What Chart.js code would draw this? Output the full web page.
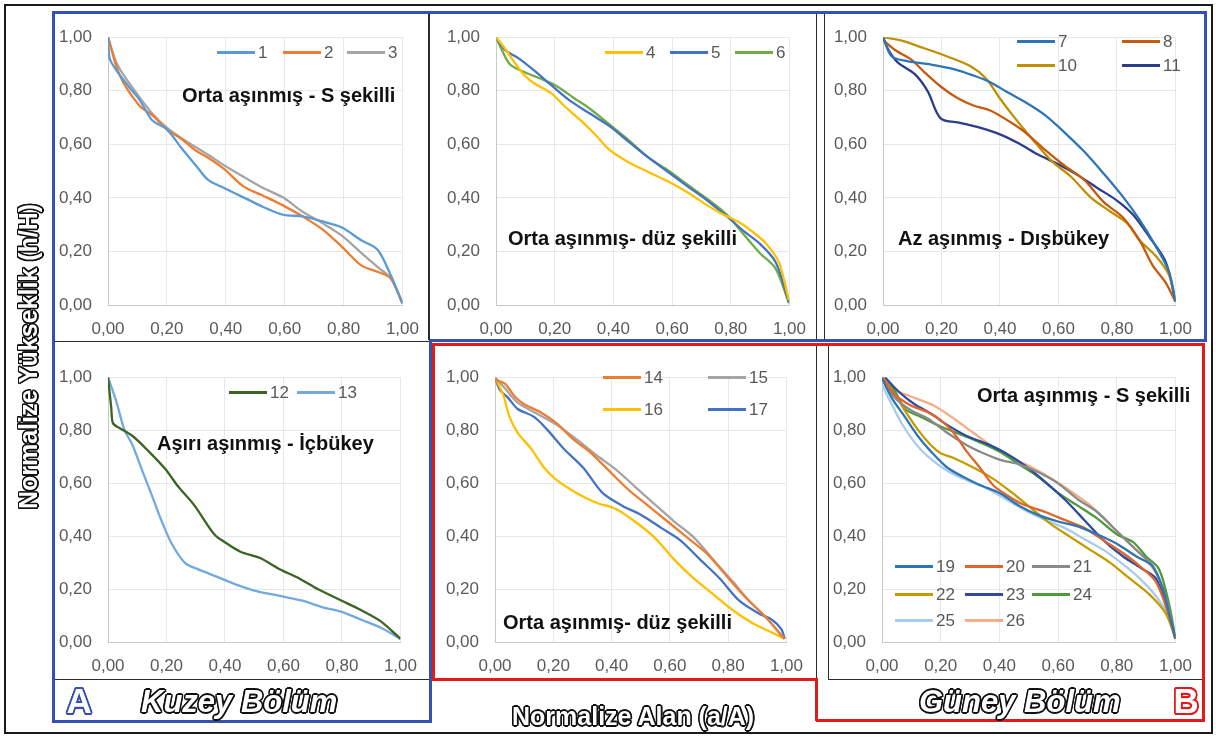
<!DOCTYPE html>
<html><head><meta charset="utf-8">
<script src="https://cdn.jsdelivr.net/npm/chart.js@4.4.1/dist/chart.umd.min.js"></script>
<style>
html,body{margin:0;padding:0;background:#fff;}
#wrap{position:relative;width:1216px;height:737px;overflow:hidden;background:#fff;}
canvas{position:absolute;}
.bx{position:absolute;box-sizing:border-box;}
.lg{position:absolute;font:17px 'Liberation Sans',Arial,sans-serif;color:#595959;white-space:nowrap;line-height:20px;height:20px;}
.lg i{display:inline-block;width:38px;height:3px;vertical-align:middle;margin-right:3px;position:relative;top:-1px;}
.note{position:absolute;font:bold 20px 'Liberation Sans',Arial,sans-serif;color:#111;white-space:nowrap;line-height:24px;}
.out{position:absolute;white-space:nowrap;color:#fff;font-family:'Liberation Sans',Arial,sans-serif;font-weight:bold;line-height:1;}
</style></head>
<body><div id="wrap"></div>
<script>
// ---------- data ----------
const tickValues = [0, 0.2, 0.4, 0.6, 0.8, 1.0];
const tickLabels = ['0,00', '0,20', '0,40', '0,60', '0,80', '1,00'];

const s1 = [[0,1],[0.007,0.916],[0.062,0.827],[0.106,0.768],[0.15,0.69],[0.2,0.656],[0.25,0.585],[0.295,0.526],[0.34,0.467],[0.394,0.437],[0.46,0.402],[0.527,0.366],[0.594,0.337],[0.66,0.331],[0.726,0.313],[0.793,0.29],[0.86,0.242],[0.915,0.207],[0.96,0.112],[1,0.006]];
const s2 = [[0,1],[0.04,0.857],[0.106,0.745],[0.15,0.709],[0.2,0.656],[0.25,0.62],[0.295,0.579],[0.34,0.55],[0.394,0.508],[0.46,0.443],[0.527,0.408],[0.594,0.372],[0.66,0.331],[0.726,0.284],[0.793,0.219],[0.86,0.148],[0.915,0.124],[0.96,0.1],[1,0.006]];
const s3 = [[0,1],[0.029,0.904],[0.073,0.827],[0.15,0.715],[0.2,0.662],[0.26,0.615],[0.34,0.561],[0.405,0.514],[0.46,0.479],[0.527,0.437],[0.594,0.402],[0.66,0.349],[0.726,0.307],[0.793,0.26],[0.86,0.195],[0.915,0.142],[0.96,0.1],[1,0.006]];

const s4 = [[0,1],[0.031,0.957],[0.064,0.904],[0.098,0.857],[0.131,0.827],[0.187,0.792],[0.231,0.745],[0.287,0.691],[0.342,0.632],[0.387,0.579],[0.453,0.532],[0.52,0.496],[0.587,0.461],[0.653,0.42],[0.72,0.372],[0.776,0.337],[0.831,0.307],[0.876,0.272],[0.92,0.23],[0.964,0.16],[0.998,0.018]];
const s5 = [[0,1],[0.031,0.952],[0.076,0.922],[0.131,0.875],[0.187,0.822],[0.253,0.762],[0.32,0.715],[0.387,0.668],[0.453,0.609],[0.52,0.55],[0.587,0.496],[0.653,0.443],[0.72,0.39],[0.787,0.331],[0.842,0.278],[0.898,0.23],[0.953,0.16],[0.998,0.012]];
const s6 = [[0,1],[0.02,0.952],[0.048,0.898],[0.098,0.869],[0.153,0.845],[0.209,0.816],[0.264,0.774],[0.32,0.733],[0.387,0.674],[0.453,0.615],[0.52,0.55],[0.587,0.502],[0.653,0.449],[0.72,0.396],[0.787,0.337],[0.842,0.266],[0.898,0.195],[0.953,0.136],[0.998,0.006]];

const s7 = [[0,1],[0.03,0.928],[0.086,0.91],[0.164,0.898],[0.242,0.881],[0.309,0.857],[0.365,0.833],[0.42,0.798],[0.487,0.757],[0.554,0.709],[0.621,0.644],[0.688,0.573],[0.755,0.49],[0.822,0.402],[0.877,0.319],[0.933,0.219],[0.978,0.124],[1,0.012]];
const s8 = [[0,0.99],[0.041,0.952],[0.097,0.916],[0.142,0.869],[0.197,0.816],[0.253,0.774],[0.309,0.745],[0.365,0.727],[0.431,0.686],[0.487,0.644],[0.554,0.579],[0.621,0.52],[0.688,0.467],[0.755,0.384],[0.822,0.325],[0.877,0.242],[0.922,0.148],[0.967,0.083],[1,0.012]];
const s10 = [[0,1],[0.064,0.987],[0.13,0.963],[0.22,0.928],[0.298,0.892],[0.353,0.845],[0.398,0.774],[0.443,0.709],[0.51,0.62],[0.576,0.538],[0.643,0.479],[0.71,0.402],[0.777,0.349],[0.833,0.307],[0.877,0.242],[0.933,0.183],[0.978,0.112],[1,0.018]];
const s11 = [[0,1],[0.019,0.952],[0.052,0.904],[0.108,0.863],[0.153,0.798],[0.197,0.697],[0.264,0.68],[0.331,0.662],[0.398,0.638],[0.465,0.603],[0.532,0.561],[0.599,0.526],[0.666,0.485],[0.733,0.437],[0.8,0.39],[0.855,0.337],[0.911,0.254],[0.967,0.16],[1,0.012]];

const s12 = [[0,1],[0.011,0.886],[0.017,0.826],[0.039,0.808],[0.084,0.778],[0.14,0.719],[0.196,0.653],[0.24,0.587],[0.296,0.515],[0.363,0.407],[0.408,0.371],[0.453,0.341],[0.52,0.317],[0.587,0.275],[0.654,0.24],[0.72,0.198],[0.799,0.156],[0.866,0.12],[0.933,0.078],[1,0.012]];
const s13 = [[0,1],[0.028,0.91],[0.056,0.802],[0.084,0.743],[0.117,0.647],[0.151,0.551],[0.184,0.455],[0.218,0.371],[0.263,0.299],[0.307,0.275],[0.374,0.246],[0.441,0.216],[0.508,0.192],[0.587,0.174],[0.665,0.156],[0.732,0.132],[0.799,0.114],[0.866,0.084],[0.933,0.054],[1,0.012]];

const s14 = [[0,0.99],[0.034,0.976],[0.067,0.928],[0.1,0.898],[0.156,0.868],[0.212,0.826],[0.268,0.766],[0.324,0.719],[0.391,0.647],[0.458,0.575],[0.525,0.515],[0.592,0.455],[0.659,0.395],[0.726,0.335],[0.793,0.251],[0.86,0.168],[0.927,0.096],[0.983,0.024],[0.994,0.012]];
const s15 = [[0,1],[0.034,0.958],[0.078,0.904],[0.145,0.862],[0.212,0.82],[0.279,0.766],[0.346,0.707],[0.413,0.653],[0.48,0.587],[0.547,0.521],[0.615,0.455],[0.682,0.395],[0.749,0.311],[0.816,0.228],[0.872,0.156],[0.927,0.096],[0.994,0.012]];
const s16 = [[0,1],[0.028,0.934],[0.05,0.85],[0.078,0.79],[0.123,0.731],[0.168,0.659],[0.212,0.611],[0.279,0.563],[0.346,0.527],[0.413,0.503],[0.48,0.455],[0.547,0.395],[0.615,0.311],[0.682,0.24],[0.749,0.18],[0.816,0.12],[0.883,0.072],[0.95,0.036],[0.994,0.012]];
const s17 = [[0,1],[0.017,0.952],[0.045,0.922],[0.078,0.88],[0.134,0.85],[0.179,0.802],[0.235,0.731],[0.302,0.659],[0.369,0.563],[0.436,0.515],[0.503,0.479],[0.57,0.431],[0.637,0.383],[0.704,0.311],[0.771,0.24],[0.838,0.156],[0.905,0.108],[0.95,0.084],[0.983,0.048],[0.994,0.012]];

const s19 = [[0,0.994],[0.033,0.922],[0.078,0.85],[0.122,0.778],[0.167,0.719],[0.222,0.659],[0.278,0.623],[0.333,0.593],[0.4,0.563],[0.467,0.515],[0.533,0.479],[0.6,0.455],[0.667,0.437],[0.733,0.407],[0.8,0.371],[0.867,0.323],[0.922,0.287],[0.956,0.204],[0.978,0.108],[1,0.012]];
const s20 = [[0,1],[0.044,0.934],[0.1,0.892],[0.156,0.868],[0.2,0.838],[0.244,0.79],[0.289,0.719],[0.333,0.659],[0.378,0.593],[0.422,0.557],[0.478,0.521],[0.556,0.491],[0.622,0.461],[0.689,0.431],[0.756,0.383],[0.822,0.335],[0.878,0.287],[0.933,0.228],[0.972,0.12],[1,0.012]];
const s21 = [[0,1],[0.044,0.922],[0.1,0.874],[0.156,0.844],[0.222,0.79],[0.289,0.743],[0.333,0.719],[0.4,0.689],[0.467,0.671],[0.533,0.641],[0.6,0.599],[0.667,0.539],[0.733,0.491],[0.8,0.419],[0.867,0.347],[0.922,0.287],[0.967,0.168],[1,0.012]];
const s22 = [[0,1],[0.044,0.934],[0.078,0.874],[0.122,0.802],[0.167,0.743],[0.2,0.713],[0.244,0.695],[0.311,0.659],[0.378,0.617],[0.444,0.563],[0.511,0.503],[0.578,0.443],[0.644,0.395],[0.711,0.347],[0.778,0.299],[0.844,0.24],[0.911,0.18],[0.967,0.108],[1,0.012]];
const s23 = [[0.01,1],[0.056,0.946],[0.111,0.898],[0.167,0.862],[0.222,0.82],[0.289,0.778],[0.356,0.749],[0.422,0.713],[0.489,0.665],[0.556,0.605],[0.622,0.539],[0.689,0.461],[0.756,0.383],[0.822,0.323],[0.889,0.275],[0.933,0.24],[0.972,0.132],[1,0.012]];
const s24 = [[0,0.994],[0.044,0.946],[0.078,0.88],[0.133,0.85],[0.2,0.814],[0.267,0.784],[0.333,0.754],[0.4,0.719],[0.467,0.671],[0.533,0.623],[0.6,0.563],[0.667,0.515],[0.733,0.467],[0.8,0.407],[0.856,0.377],[0.9,0.323],[0.944,0.275],[0.978,0.144],[1,0.012]];
const s25 = [[0,0.97],[0.033,0.898],[0.067,0.826],[0.111,0.754],[0.156,0.701],[0.222,0.647],[0.289,0.611],[0.356,0.581],[0.422,0.539],[0.489,0.497],[0.556,0.461],[0.622,0.431],[0.689,0.389],[0.756,0.347],[0.822,0.293],[0.878,0.24],[0.933,0.174],[0.978,0.096],[1,0.012]];
const s26 = [[0,1],[0.056,0.946],[0.111,0.922],[0.178,0.892],[0.244,0.844],[0.311,0.79],[0.378,0.737],[0.444,0.695],[0.511,0.659],[0.578,0.617],[0.644,0.569],[0.711,0.515],[0.778,0.443],[0.844,0.371],[0.9,0.311],[0.944,0.24],[0.978,0.132],[1,0.012]];

const panelSeries = [
  [['1', s1], ['2', s2], ['3', s3]],
  [['4', s4], ['5', s5], ['6', s6]],
  [['7', s7], ['8', s8], ['10', s10], ['11', s11]],
  [['12', s12], ['13', s13]],
  [['14', s14], ['15', s15], ['16', s16], ['17', s17]],
  [['19', s19], ['20', s20], ['21', s21], ['22', s22], ['23', s23], ['24', s24], ['25', s25], ['26', s26]]
];
const panelTitles = ['Orta aşınmış - S şekilli', 'Orta aşınmış- düz şekilli', 'Az aşınmış - Dışbükey',
  'Aşırı aşınmış - İçbükey', 'Orta aşınmış- düz şekilli', 'Orta aşınmış - S şekilli'];
const yTitle = 'Normalize Yükseklik (h/H)';
const xTitle = 'Normalize Alan (a/A)';
const groupA = 'Kuzey Bölüm';
const groupB = 'Güney Bölüm';

// ---------- styles / layout ----------
const colors = {
  '1':'#5B9BD5','2':'#ED7D31','3':'#A5A5A5','4':'#FFC000','5':'#4472C4','6':'#70AD47',
  '7':'#2E75B6','8':'#C55A11','10':'#BF9000','11':'#2C3D8C','12':'#3B6522','13':'#72A9DF',
  '14':'#ED7D31','15':'#A5A5A5','16':'#FFC000','17':'#4472C4',
  '19':'#2E75B6','20':'#E0652C','21':'#8A8A8A','22':'#C59B00','23':'#2F4A9F','24':'#4C9A3A','25':'#A8CCEC','26':'#F4AE88'
};
const plots = [
  {l:108,t:23,w:301,h:282},{l:496,t:23,w:300,h:282},{l:883,t:23,w:299,h:282},
  {l:108,t:363,w:299,h:279},{l:495,t:363,w:298,h:279},{l:882,t:363,w:300,h:279}
];
const notePos = [[182,95],[508,238],[898,238],[157,443],[503,622],[977,395]];
const legendPos = [
  [[217,53],[283,53],[347,53]],
  [[605,53],[670,53],[735,53]],
  [[1017,42],[1122,42],[1017,66],[1122,66]],
  [[229,393],[297,393]],
  [[603,378],[708,378],[603,410],[708,410]],
  [[895,567],[965,567],[1032,567],[895,595],[965,595],[1032,595],[895,621],[965,621]]
];

const wrap = document.getElementById('wrap');
function el(tag, cls, css, html){ const e=document.createElement(tag); if(cls) e.className=cls; Object.assign(e.style, css||{}); if(html!==undefined) e.innerHTML=html; wrap.appendChild(e); return e; }
function rect(l,t,r,b,w,c){ el('div','bx',{left:l+'px',top:t+'px',width:(r-l)+'px',height:(b-t)+'px',border:w+'px solid '+c}); }
function hline(x1,x2,y,w,c){ el('div','bx',{left:x1+'px',top:(y-w/2)+'px',width:(x2-x1)+'px',height:w+'px',background:c}); }
function vline(x,y1,y2,w,c){ el('div','bx',{left:(x-w/2)+'px',top:y1+'px',width:w+'px',height:(y2-y1)+'px',background:c}); }

const FONT = "'Liberation Sans', Arial, sans-serif";
const tickFmt = v => { const i = tickValues.findIndex(t => Math.abs(t - v) < 1e-6); return i >= 0 ? tickLabels[i] : ''; };

plots.forEach((p, i) => {
  const c = document.createElement('canvas');
  const W = p.w + 60 + 24, H = p.h + 12 + 40;
  c.width = W; c.height = H;
  c.style.left = (p.l - 60) + 'px'; c.style.top = (p.t - 12) + 'px';
  c.style.width = W + 'px'; c.style.height = H + 'px';
  wrap.appendChild(c);
  const axis = (isX) => ({
    type: 'linear', min: 0, max: 1,
    ticks: { stepSize: 0.2, autoSkip: false, padding: isX ? 14 : 16, color: '#5a5a5a',
      font: { family: FONT, size: 17 }, callback: tickFmt },
    grid: { color: '#e8e8e8', lineWidth: 1, drawTicks: false },
    border: { color: '#c8c8c8', width: 1 },
    afterFit: s => { if (isX) s.height = 40; else s.width = 60; }
  });
  new Chart(c, {
    type: 'scatter',
    data: { datasets: panelSeries[i].map(([name, pts]) => ({
      label: name,
      data: pts.map(([x, y]) => ({x, y})),
      showLine: true, borderColor: colors[name], backgroundColor: colors[name],
      borderWidth: 2.3, pointRadius: 0, tension: 0.3, fill: false
    })) },
    options: {
      responsive: false, animation: false, devicePixelRatio: 1,
      layout: { padding: { left: 0, top: 12, right: 24, bottom: 0 } },
      plugins: { legend: { display: false }, tooltip: { enabled: false } },
      scales: { x: axis(true), y: axis(false) }
    }
  });
  el('div','note',{left:notePos[i][0]+'px',top:(notePos[i][1]-12)+'px'}, panelTitles[i]);
  panelSeries[i].forEach(([name], k) => {
    const [lx, ly] = legendPos[i][k];
    el('div','lg',{left:lx+'px',top:(ly-10)+'px'}, '<i style="background:'+colors[name]+'"></i>'+name);
  });
});

// ---------- frames ----------
const BLK = '#2b2b2b', BLUE = '#3450b5', RED = '#e3191c';
rect(4,4,1213,734,2,'#1a1a1a');
rect(53,12,430,342,1.5,BLK);
rect(428,12,817,340,1.5,BLK);
rect(824,12,1205,340,1.5,BLK);
rect(53,341,430,680,1.5,BLK);
rect(432,343,817,679,1.5,BLK);
rect(828,343,1204,680,1.5,BLK);
// blue box A
hline(52,1207,12,3,BLUE); vline(1205,11,341,3,BLUE); hline(430,1207,340,3,BLUE);
vline(53,11,722,3,BLUE); hline(52,432,721,3,BLUE); vline(430,340,722,3,BLUE);
// red box B
hline(432,1205,344,3,RED); vline(1203,343,721,3,RED); hline(816,1205,720,3,RED);
vline(816,678,721,3,RED); hline(432,817,679,3,RED); vline(433,343,680,3,RED);

// ---------- outlined titles ----------
function outline(color, r){
  const parts = [];
  for (let a = 0; a < 360; a += 30) {
    const rad = a * Math.PI / 180;
    parts.push((r*Math.cos(rad)).toFixed(2)+'px '+(r*Math.sin(rad)).toFixed(2)+'px 0 '+color);
  }
  return parts.join(',');
}
function outText(txt, cx, cy, size, opts, color, r){
  const e = el('div','out',Object.assign({left:'0px',top:'0px',fontSize:size+'px',
    textShadow: outline(color || '#111', r || 1.6)}, opts||{}), txt);
  const w = e.offsetWidth, h = e.offsetHeight;
  e.style.left = (cx - w/2) + 'px'; e.style.top = (cy - h/2) + 'px';
  return e;
}
outText(xTitle, 633, 716, 25);
const yt = outText(yTitle, 28, 356, 25);
yt.style.transform = 'rotate(-90deg)';
outText(groupA, 239, 701, 31, {fontStyle:'italic'});
outText(groupB, 1020, 701, 31, {fontStyle:'italic'});
outText('A', 79, 700, 35, {}, BLUE, 1.8);
outText('B', 1186, 700, 35, {}, RED, 1.8);
</script>
</body></html>
